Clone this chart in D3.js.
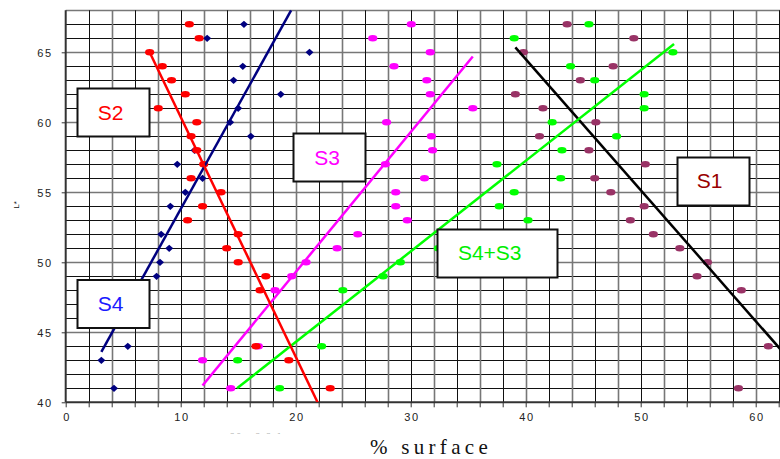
<!DOCTYPE html>
<html>
<head>
<meta charset="utf-8">
<script src="https://cdn.jsdelivr.net/npm/d3@7"></script>
<style>
  html, body { margin: 0; padding: 0; background: #fff; }
  svg { display: block; }
</style>
</head>
<body>
<svg id="chart" width="780" height="459"></svg>
<script>
// ---------------- DATA ----------------
const xTickLabels = [0, 10, 20, 30, 40, 50, 60];
const yTickLabels = [40, 45, 50, 55, 60, 65];

// S4 (navy diamonds): [ % surface, L* ]
const s4Points = [[15.5,67],[12.3,66],[15.4,64],[14.6,63],[15.0,61],[14.3,60],[16.1,59],[11.2,58],[9.7,57],[11.9,56],[10.4,55],[9.1,54],[21.2,65],[18.7,62],[8.3,52],[9.0,51],[8.2,50],[7.9,49],[5.4,44],[3.1,43],[4.2,41]];
// S2 (red)
const s2Points = [[10.75,67],[11.6,66],[7.3,65],[8.4,64],[9.2,63],[10.4,62],[8.05,61],[11.4,60],[10.9,59],[11.4,58],[12.0,57],[10.9,56],[13.5,55],[11.9,54],[10.6,53],[15.0,52],[14.0,51],[15.0,50],[17.4,49],[16.9,48],[19.4,43],[23.0,41]];
const s2Extra = [[16.55,44]];
// S3 (magenta)
const s3Points = [[30.05,67],[26.7,66],[31.7,65],[28.55,64],[31.4,63],[31.7,62],[35.4,61],[27.9,60],[31.8,59],[31.9,58],[27.8,57],[31.2,56],[28.7,55],[28.7,54],[29.7,53],[25.4,52],[23.6,51],[20.9,50],[19.65,49],[18.2,48],[16.75,44],[11.9,43],[14.35,41]];
// S4+S3 (green)
const s43Points = [[14.95,43],[18.6,41],[22.25,44],[24.1,48],[27.6,49],[29.1,50],[32.4,51],[37.7,54],[40.2,53],[39.0,55],[43.05,56],[37.5,57],[43.15,58],[47.9,59],[42.3,60],[50.3,61],[50.3,62],[46.0,63],[43.9,64],[52.8,65],[39.0,66],[45.5,67]];
// S1 (purple)
const s1Points = [[43.6,67],[49.4,66],[39.8,65],[47.6,64],[44.75,63],[39.1,62],[41.5,61],[46.1,60],[41.2,59],[45.5,58],[50.4,57],[46.0,56],[47.4,55],[50.3,54],[49.1,53],[51.1,52],[53.4,51],[55.8,50],[54.9,49],[58.75,48],[61.1,44],[58.5,41]];

// trend lines (end points)
const s4Fit  = [[3.1,43.6],[19.6,68]];
const s2Fit  = [[7.3,65],[21.9,40]];
const s3Fit  = [[11.9,41.2],[35.4,64.7]];
const s43Fit = [[14.9,41.0],[52.9,65.6]];
const s1Fit  = [[39.1,65.35],[62.3,43.65]];

const seriesNames = ["S2", "S4", "S3", "S4+S3", "S1"];
const xTitle = "% surface";
const yTitle = "L*";

// ---------------- LAYOUT ----------------
const svg = d3.select("#chart");
const x = d3.scaleLinear().domain([0, 62.5]).range([65.7, 65.7 + 62.5 * 11.5]);
const y = d3.scaleLinear().domain([40, 68]).range([402.3, 10.3]);

const colors = { s4: "#000080", s2: "#ff0000", s3: "#ff00ff", s43: "#00ff00", s1: "#993366" };

const plotRight = 780;

// clip for the plot area
svg.append("defs").append("clipPath").attr("id", "plotclip")
  .append("rect").attr("x", x(0)).attr("y", y(68) - 1).attr("width", plotRight - x(0)).attr("height", y(40) - y(68) + 1);
svg.select("defs").append("clipPath").attr("id", "tinyclip")
  .append("rect").attr("x", 200).attr("y", 428).attr("width", 120).attr("height", 5.5);

// grid
const grid = svg.append("g");
const hLines = d3.range(41, 68.01, 1);
grid.selectAll("line.h").data(hLines).join("line")
  .attr("x1", x(0)).attr("x2", plotRight)
  .attr("y1", d => Math.round(y(d)) + 0.5).attr("y2", d => Math.round(y(d)) + 0.5)
  .attr("stroke", d => (d % 5 === 0 || d === 68) ? "#777" : "#111")
  .attr("stroke-width", d => (d % 5 === 0 || d === 68) ? 1.6 : 1);
const vLines = d3.range(2, 62.01, 2);
grid.selectAll("line.v").data(vLines).join("line")
  .attr("y1", y(68)).attr("y2", y(40))
  .attr("x1", d => Math.round(x(d)) + 0.5).attr("x2", d => Math.round(x(d)) + 0.5)
  .attr("stroke", d => (d % 4 === 0) ? "#777" : "#111")
  .attr("stroke-width", d => (d % 4 === 0) ? 1.6 : 1);

// axes
const xAxis = d3.axisBottom(x).tickValues(d3.range(0, 62.01, 2))
  .tickFormat(d => xTickLabels.includes(d) ? d : "").tickSize(5).tickSizeOuter(0);
const gx = svg.append("g").attr("transform", `translate(0,${y(40)})`).call(xAxis);
gx.select(".domain").attr("stroke", "#333").attr("stroke-width", 2).attr("d", `M${x(0)},0H${plotRight}`);
gx.selectAll(".tick line").attr("stroke", "#333");
gx.selectAll(".tick text").attr("fill", "#222").attr("font-family", "Liberation Sans, Arial, sans-serif")
  .attr("font-size", 11).attr("letter-spacing", 1.6).attr("dy", "0.95em").attr("dx", 0.8);

const yAxis = d3.axisLeft(y).tickValues(yTickLabels).tickSize(4).tickSizeOuter(0);
const gy = svg.append("g").attr("transform", `translate(${x(0)},0)`).call(yAxis);
gy.select(".domain").attr("stroke", "#333").attr("stroke-width", 2).attr("d", `M0,${y(68)}V${y(40)}`);
gy.selectAll(".tick line").attr("stroke", "#333");
gy.selectAll(".tick text").attr("fill", "#222").attr("font-family", "Liberation Sans, Arial, sans-serif")
  .attr("font-size", 11).attr("letter-spacing", 1.6).attr("x", -13).attr("dy", "0.36em");

// axis titles
svg.append("text").attr("x", 431).attr("y", 454).attr("text-anchor", "middle")
  .attr("font-family", "Liberation Serif, Times New Roman, serif").attr("font-size", 21)
  .attr("letter-spacing", 4.3).attr("fill", "#111").text(xTitle);
svg.append("text").attr("transform", "translate(19,205) rotate(-90)").attr("text-anchor", "middle")
  .attr("font-family", "Liberation Sans, Arial, sans-serif").attr("font-size", 8)
  .attr("fill", "#111").text(yTitle);
// faint cut-off text under the axis
svg.append("text").attr("x", 230).attr("y", 438).attr("clip-path", "url(#tinyclip)")
  .attr("font-family", "Liberation Sans, Arial, sans-serif").attr("font-size", 8)
  .attr("letter-spacing", 2).attr("fill", "#666").text("20  . 3 3 1");

// plot content
const plot = svg.append("g").attr("clip-path", "url(#plotclip)");
const line = d3.line().x(d => x(d[0])).y(d => y(d[1]));

function ellipses(data, color) {
  plot.append("g").selectAll("ellipse").data(data).join("ellipse")
    .attr("cx", d => x(d[0])).attr("cy", d => y(d[1]))
    .attr("rx", 4.6).attr("ry", 3.3).attr("fill", color);
}
ellipses(s1Points, colors.s1);
ellipses(s43Points, colors.s43);
ellipses(s3Points, colors.s3);
ellipses(s2Extra, colors.s2);
plot.append("g").selectAll("path").data(s4Points).join("path")
  .attr("d", d => `M${x(d[0])},${y(d[1]) - 3.6}L${x(d[0]) + 4},${y(d[1])}L${x(d[0])},${y(d[1]) + 3.6}L${x(d[0]) - 4},${y(d[1])}Z`)
  .attr("fill", colors.s4);
ellipses(s2Points, colors.s2);

[[s1Fit, "#000"], [s43Fit, colors.s43], [s3Fit, colors.s3], [s4Fit, colors.s4], [s2Fit, colors.s2]]
  .forEach(([d, c]) => plot.append("path").datum(d).attr("d", line)
    .attr("fill", "none").attr("stroke", c).attr("stroke-width", 2.5));

// label boxes
const boxes = [
  { name: seriesNames[0], x: 77.5, y: 88.5, w: 72, h: 48, tx: 110.5, ty: 119.5, color: "#ff0000" },
  { name: seriesNames[1], x: 77.5, y: 280, w: 72, h: 48, tx: 110.5, ty: 311, color: "#1a1aff" },
  { name: seriesNames[2], x: 293.5, y: 133.5, w: 72, h: 48, tx: 327, ty: 164.5, color: "#ff00ff" },
  { name: seriesNames[3], x: 437.5, y: 229.5, w: 120, h: 48, tx: 489.7, ty: 260, color: "#00ee00" },
  { name: seriesNames[4], x: 677.5, y: 157.5, w: 72, h: 48, tx: 709.5, ty: 188, color: "#990000" }
];
const bg = svg.append("g");
bg.selectAll("rect").data(boxes).join("rect")
  .attr("x", d => d.x).attr("y", d => d.y).attr("width", d => d.w).attr("height", d => d.h)
  .attr("fill", "#fff").attr("stroke", "#111").attr("stroke-width", 2);
bg.selectAll("text").data(boxes).join("text")
  .attr("x", d => d.tx).attr("y", d => d.ty).attr("text-anchor", "middle")
  .attr("font-family", "Liberation Sans, Arial, sans-serif").attr("font-size", 21)
  .attr("fill", d => d.color).text(d => d.name);
</script>
</body>
</html>
